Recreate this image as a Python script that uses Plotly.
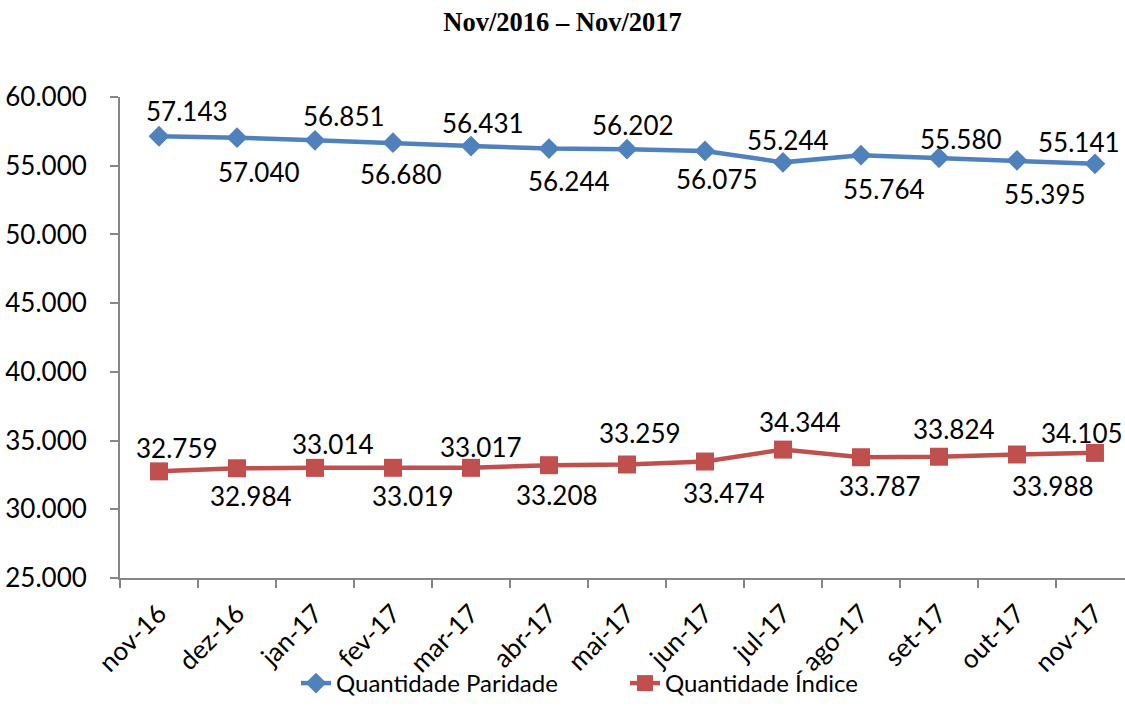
import plotly.graph_objects as go

categories = ["nov-16", "dez-16", "jan-17", "fev-17", "mar-17", "abr-17", "mai-17",
              "jun-17", "jul-17", "ago-17", "set-17", "out-17", "nov-17"]
paridade = [57143, 57040, 56851, 56680, 56431, 56244, 56202, 56075, 55244, 55764, 55580, 55395, 55141]
indice = [32759, 32984, 33014, 33019, 33017, 33208, 33259, 33474, 34344, 33787, 33824, 33988, 34105]
y_ticks = [25000, 30000, 35000, 40000, 45000, 50000, 55000, 60000]

# label nudges in pixels (styling only): (dx, dy) with dy positive = downwards
paridade_label_dx = [28, 22, 29, 8, 12, 20, 6, 12, 5, 23, 22, 28, -16]
paridade_label_dy = [-25, 34, -24, 31, -23, 32, -24, 28, -22, 34, -19, 34, -22]
indice_label_dx = [18, 14, 18, 20, 10, 8, 13, 19, 17, 19, 15, 36, -13]
indice_label_dy = [-23, 28, -24, 28, -21, 30, -32, 31, -28, 29, -28, 32, -20]

def fmt(v):
    return f"{v:,}".replace(",", ".")

FONT = "Lato, 'Open Sans', sans-serif"
LABEL_SIZE = 26

fig = go.Figure()
fig.add_trace(go.Scatter(
    x=categories, y=paridade, name="Quantidade Paridade", mode="lines+markers",
    line=dict(color="#4F81BD", width=4.5),
    marker=dict(symbol="diamond", size=16, color="#4F81BD"),
    cliponaxis=False,
))
fig.add_trace(go.Scatter(
    x=categories, y=indice, name="Quantidade Índice", mode="lines+markers",
    line=dict(color="#C0504D", width=4.5),
    marker=dict(symbol="square", size=18, color="#C0504D"),
    cliponaxis=False,
))

for series, dxs, dys in ((paridade, paridade_label_dx, paridade_label_dy),
                         (indice, indice_label_dx, indice_label_dy)):
    for c, v, dx, dy in zip(categories, series, dxs, dys):
        fig.add_annotation(
            x=c, y=v, text=fmt(v), showarrow=False,
            xanchor="center", yanchor="middle",
            xshift=dx, yshift=-dy,
            font=dict(family=FONT, size=LABEL_SIZE, color="black"),
        )

fig.update_layout(
    width=1125, height=706,
    margin=dict(l=120, r=0, t=97, b=128, autoexpand=False),
    paper_bgcolor="white", plot_bgcolor="white",
    title=dict(text="<b>Nov/2016 – Nov/2017</b>", x=0.5, xref="container", xanchor="center",
               y=1 - 22 / 706, yref="container", yanchor="middle",
               font=dict(family="Liberation Serif, Times New Roman, serif", size=26.5, color="black")),
    font=dict(family=FONT, color="black"),
    showlegend=True,
    legend=dict(orientation="h", x=296 / 1125, xref="container", xanchor="left",
                y=-10 / 706, yref="container", yanchor="bottom",
                bgcolor="rgba(0,0,0,0)",
                font=dict(family=FONT, size=24, color="black"),
                entrywidth=284, entrywidthmode="pixels", tracegroupgap=0),
)
fig.update_xaxes(
    type="category", range=[-0.5, 12.385], automargin=False,
    showline=True, linecolor="#868686", linewidth=2,
    ticks="outside", tickson="boundaries", ticklen=8, tickcolor="#868686", tickwidth=2,
    ticklabelstandoff=8,
    tickangle=-45, tickfont=dict(family=FONT, size=26, color="black"),
    showgrid=False, zeroline=False,
)
fig.update_yaxes(
    range=[25000, 60000], tickmode="array", tickvals=y_ticks,
    ticktext=[fmt(v) for v in y_ticks], automargin=False,
    showline=True, linecolor="#868686", linewidth=2,
    ticks="outside", ticklen=8, tickcolor="#868686", tickwidth=2,
    ticklabelstandoff=18,
    tickfont=dict(family=FONT, size=26, color="black"),
    showgrid=False, zeroline=False,
)
fig.write_html("out.html", config={"displayModeBar": False},
               post_script="document.body.style.margin='0';document.body.style.overflow='hidden';")
